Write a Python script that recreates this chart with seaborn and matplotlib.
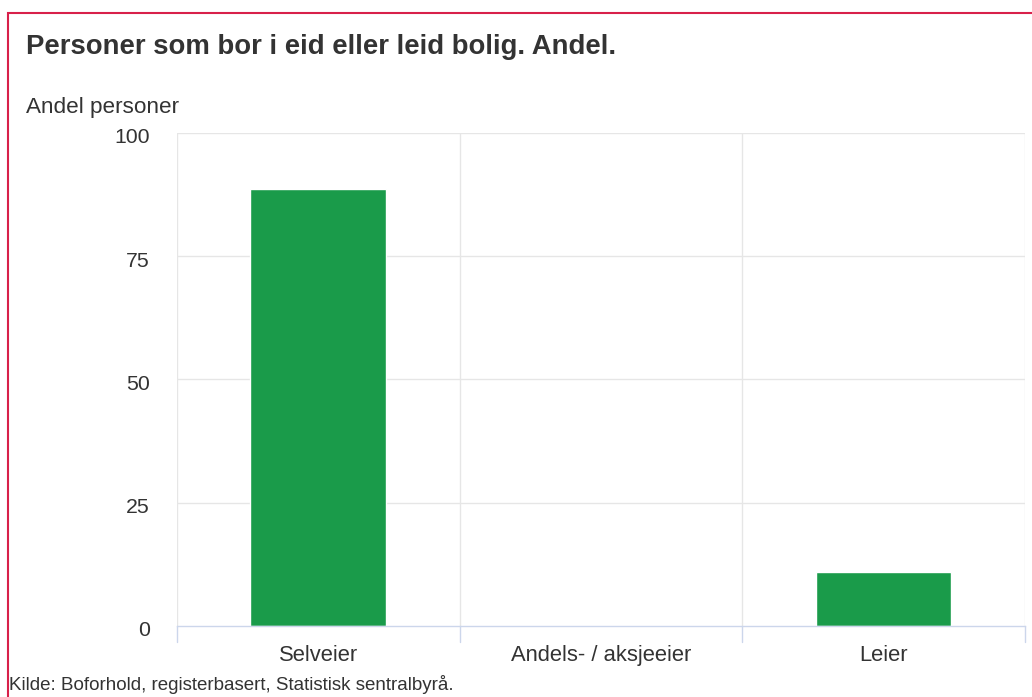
import matplotlib
matplotlib.use("Agg")
from matplotlib import pyplot as plt
from matplotlib.patches import Rectangle
import matplotlib.transforms as mtrans
import numpy as np
import pandas as pd
import seaborn as sns

sns.set_style("white")
plt.rcParams['font.family'] = ['Liberation Sans', 'DejaVu Sans']

categories = ['Selveier', 'Andels- / aksjeeier', 'Leier']
andel = [88.6, 0.0, 11.0]
yticks = [0, 25, 50, 75, 100]

df = pd.DataFrame({'kategori': categories, 'andel': andel})

fig = plt.figure(figsize=(10.32, 6.97), dpi=100)
ax = fig.add_axes([0.1715, 0.1019, 0.8217, 0.7073])

sns.barplot(data=df, x='kategori', y='andel', color='#1a9b4a', width=0.48,
            saturation=1, ax=ax)

ax.set_ylim(0, 100)
ax.set_xlim(-0.5, len(categories) - 0.5)
ax.set_yticks(yticks)
ax.set_yticklabels([str(t) for t in yticks], fontsize=15.3, color='#333333')
ax.set_xticks(range(len(categories)))
ax.set_xticklabels(categories, fontsize=15.8, color='#333333')
ax.tick_params(axis='y', length=0, pad=19.5)
ax.tick_params(axis='x', length=0, pad=14)
ax.set_xlabel('')
ax.set_ylabel('')

# y-etikettene litt ned, som i originalen
shift = mtrans.ScaledTranslation(0, -3 / 100, fig.dpi_scale_trans)
for lab in ax.get_yticklabels():
    lab.set_transform(lab.get_transform() + shift)

# rutenett
for t in yticks[1:]:
    ax.axhline(t, color='#e6e6e6', lw=1, zorder=0)
for b in np.arange(-0.5, len(categories), 1.0):
    ax.axvline(b, color='#e6e6e6', lw=1, zorder=0)
    ax.plot([b, b], [0, -0.033], transform=ax.get_xaxis_transform(),
            color='#ccd6eb', lw=1, clip_on=False)
for s in ['top', 'right', 'left']:
    ax.spines[s].set_visible(False)
ax.spines['bottom'].set_color('#ccd6eb')
ax.spines['bottom'].set_linewidth(1)

fig.text(26 / 1032, 1 - 47 / 697, 'Personer som bor i eid eller leid bolig. Andel.',
         fontsize=19.8, fontweight='bold', color='#333333', va='center')
fig.text(26 / 1032, 1 - 108 / 697, 'Andel personer', fontsize=16.2,
         color='#333333', va='center')
fig.text(9 / 1032, 1 - 684 / 697, 'Kilde: Boforhold, registerbasert, Statistisk sentralbyrå.',
         fontsize=13.5, color='#333333', va='center')

fig.patches.append(Rectangle((8 / 1032, -0.1), 1.2, 1 - 13 / 697 + 0.1,
                             transform=fig.transFigure, fill=False,
                             edgecolor='#d8204a', lw=1.5))

fig.savefig('out.png', dpi=100)
